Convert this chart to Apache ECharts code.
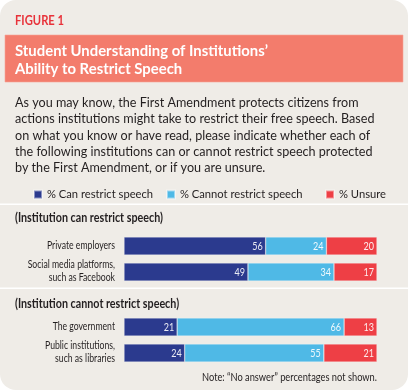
<!DOCTYPE html>
<html><head><meta charset="utf-8">
<script src="https://cdn.jsdelivr.net/npm/echarts@6/dist/echarts.min.js"></script>
<style>html,body{margin:0;padding:0;background:#fff;}#c{width:408px;height:390px;}</style>
</head><body><div id="c"></div>
<script>
// ---- data ----
const seriesNames = ['% Can restrict speech', '% Cannot restrict speech', '% Unsure'];
const groupTitles = ['(Institution can restrict speech)', '(Institution cannot restrict speech)'];
const categoriesA = ['Private employers', 'Social media platforms,\nsuch as Facebook'];
const categoriesB = ['The government', 'Public institutions,\nsuch as libraries'];
const canA = [56, 49];
const cannotA = [24, 34];
const unsureA = [20, 17];
const canB = [21, 24];
const cannotB = [66, 55];
const unsureB = [13, 21];
const figureLabel = 'FIGURE 1';
const titleLines = ['Student Understanding of Institutions\u2019', 'Ability to Restrict Speech'];
const bodyText = 'As you may know, the First Amendment protects citizens from\nactions institutions might take to restrict their free speech. Based\non what you know or have read, please indicate whether each of\nthe following institutions can or cannot restrict speech protected\nby the First Amendment, or if you are unsure.';
const noteText = 'Note: \u201CNo answer\u201D percentages not shown.';

// ---- styles ----
const colors = ['#2b3a8e', '#4fb9e6', '#ee3f45'];
const BODY = 'Lato,"Liberation Sans",sans-serif';

// horizontal condensing factor so that text widths follow the reference's condensed typeface
const mctx = document.createElement('canvas').getContext('2d');
function fit(text, font, target) { mctx.font = font; return target / mctx.measureText(text).width; }

const FIG_FONT = 'bold 13px ' + BODY;
const TITLE_FONT = 'bold 16px ' + BODY;
const HEAD_FONT = 'bold 13px ' + BODY;
const CAT_FONT = '11.5px ' + BODY;
const NOTE_FONT = '10.5px ' + BODY;
const VAL_FONT = '12px ' + BODY;
const sFig = fit(figureLabel, FIG_FONT, 49);
const sTitle = fit(titleLines[0], TITLE_FONT, 253);
const sHead = fit(groupTitles[0], HEAD_FONT, 148);
const sCat = fit('Private employers', CAT_FONT, 68);
const sNote = fit(noteText, NOTE_FONT, 175);
const sVal = fit('56', VAL_FONT, 10.5);

const chart = echarts.init(document.getElementById('c'), null, {renderer: 'canvas'});

function mkSeries(data, idx, gi) {
  return {
    name: seriesNames[idx], type: 'bar', stack: 'g' + gi,
    xAxisIndex: gi, yAxisIndex: gi, data: data, barWidth: 18,
    itemStyle: {color: colors[idx], borderColor: 'rgba(255,255,255,0.45)', borderWidth: 0.6},
    emphasis: {disabled: true}
  };
}
function mkCatLabels(cats, gi) {
  return {
    type: 'custom', xAxisIndex: gi, yAxisIndex: gi, silent: true, clip: false, z: 5,
    data: cats.map((c, i) => [0, i]), encode: {x: 0, y: 1},
    renderItem: function (params, api) {
      const pt = api.coord([0, api.value(1)]);
      return {
        type: 'text', x: pt[0] - 9, y: pt[1] - 1, scaleX: sCat,
        style: {text: cats[params.dataIndex], font: CAT_FONT, fill: '#231f20',
          align: 'right', verticalAlign: 'middle', lineHeight: 12.5}
      };
    }
  };
}
// value labels at the end of each stacked segment, placed through the axes
function mkValLabels(groups, gi) {
  const data = [];
  groups[0].forEach((_, i) => {
    let end = 0;
    groups.forEach(arr => { end += arr[i]; data.push([end, i, arr[i]]); });
  });
  return {
    type: 'custom', xAxisIndex: gi, yAxisIndex: gi, silent: true, clip: false, z: 6,
    data: data, encode: {x: 0, y: 1},
    renderItem: function (params, api) {
      const pt = api.coord([api.value(0), api.value(1)]);
      return {
        type: 'text', x: pt[0] - 3, y: pt[1] + 0.5, scaleX: sVal,
        style: {text: String(api.value(2)), font: VAL_FONT, fill: 'rgba(255,255,255,0.9)',
          align: 'right', verticalAlign: 'middle'}
      };
    }
  };
}

const yAxisCommon = {
  type: 'category', inverse: true,
  axisLine: {show: false}, axisTick: {show: false}, splitLine: {show: false}, axisLabel: {show: false}
};
const xAxisCommon = {type: 'value', min: 0, max: 100, show: false};
const legendX = [33, 166, 325];

chart.setOption({
  animation: false,
  backgroundColor: '#ffffff',
  grid: [
    {left: 124, right: 31, top: 233, height: 52, containLabel: false, outerBoundsMode: 'none'},
    {left: 124, right: 31, top: 314, height: 52, containLabel: false, outerBoundsMode: 'none'}
  ],
  xAxis: [Object.assign({gridIndex: 0}, xAxisCommon), Object.assign({gridIndex: 1}, xAxisCommon)],
  yAxis: [
    Object.assign({gridIndex: 0, data: categoriesA}, yAxisCommon),
    Object.assign({gridIndex: 1, data: categoriesB}, yAxisCommon)
  ],
  legend: seriesNames.map((n, i) => ({
    data: [n], left: legendX[i], top: 189, padding: 0, itemWidth: 8, itemHeight: 8, icon: 'rect',
    selectedMode: false,
    textStyle: {color: '#231f20', fontFamily: BODY, fontSize: 11.2}
  })),
  series: [
    mkSeries(canA, 0, 0), mkSeries(cannotA, 1, 0), mkSeries(unsureA, 2, 0),
    mkSeries(canB, 0, 1), mkSeries(cannotB, 1, 1), mkSeries(unsureB, 2, 1),
    mkCatLabels(categoriesA, 0), mkCatLabels(categoriesB, 1),
    mkValLabels([canA, cannotA, unsureA], 0), mkValLabels([canB, cannotB, unsureB], 1)
  ],
  graphic: [
    {type: 'rect', z: -10, shape: {x: 0, y: 0, width: 408, height: 390, r: 16}, style: {fill: '#efece7'}, silent: true},
    {type: 'rect', z: -9, shape: {x: 0, y: 203.5, width: 408, height: 1.5}, style: {fill: '#ffffff'}, silent: true},
    {type: 'rect', z: -9, shape: {x: 0, y: 287.5, width: 408, height: 1.5}, style: {fill: '#ffffff'}, silent: true},
    {type: 'rect', z: -9, shape: {x: 5, y: 35, width: 398, height: 47}, style: {fill: '#f37c6c', stroke: '#f7a597', lineWidth: 0.6}, silent: true},
    {type: 'text', x: 15, y: 21, scaleX: sFig, style: {text: figureLabel, fill: '#e8323a', font: FIG_FONT, textVerticalAlign: 'middle'}},
    {type: 'text', x: 15, y: 51, scaleX: sTitle, style: {text: titleLines[0], fill: '#ffffff', font: TITLE_FONT, textVerticalAlign: 'middle'}},
    {type: 'text', x: 15, y: 68.5, scaleX: sTitle, style: {text: titleLines[1], fill: '#ffffff', font: TITLE_FONT, textVerticalAlign: 'middle'}},
    {type: 'text', x: 15, y: 95, style: {text: bodyText, fill: '#231f20', font: '12.6px ' + BODY, lineHeight: 16.2, textVerticalAlign: 'top'}},
    {type: 'text', x: 15, y: 218, scaleX: sHead, style: {text: groupTitles[0], fill: '#231f20', font: HEAD_FONT, textVerticalAlign: 'middle'}},
    {type: 'text', x: 15, y: 304, scaleX: sHead, style: {text: groupTitles[1], fill: '#231f20', font: HEAD_FONT, textVerticalAlign: 'middle'}},
    {type: 'text', x: 377, y: 378, scaleX: sNote, style: {text: noteText, fill: '#231f20', font: NOTE_FONT, textAlign: 'right', textVerticalAlign: 'middle'}}
  ]
});
</script></body></html>
